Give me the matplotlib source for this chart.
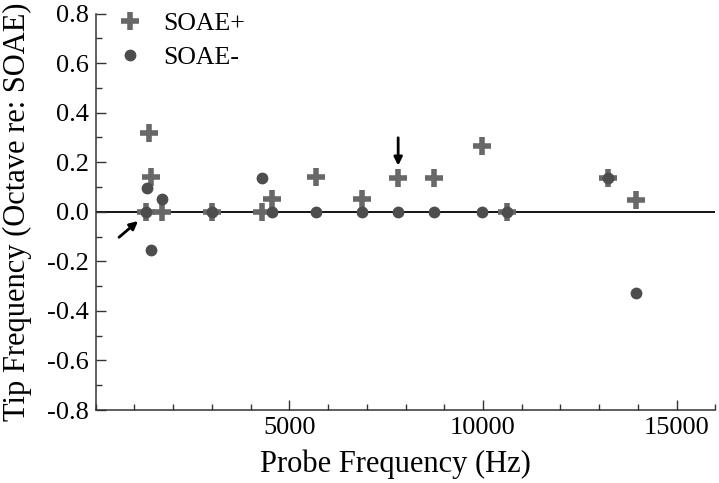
import numpy as np
import matplotlib
matplotlib.use('Agg')
import matplotlib.pyplot as plt
from matplotlib.ticker import MultipleLocator

plt.rcParams['font.family'] = ['Liberation Serif', 'DejaVu Serif']

# SOAE+ points (probe frequency Hz, tip frequency octave re SOAE)
plus_x = [1380, 1420, 1300, 1710, 3000, 4300, 4560, 5690, 6880, 7810, 8740, 9980, 10610, 13220, 13950]
plus_y = [0.316, 0.141, 0.0, 0.0, 0.0, 0.0, 0.05, 0.14, 0.05, 0.137, 0.137, 0.266, 0.0, 0.137, 0.047]

# SOAE- points
minus_x = [1330, 1710, 1300, 1430, 3000, 4300, 4560, 5690, 6880, 7810, 8740, 9980, 10610, 13220, 13950]
minus_y = [0.094, 0.051, 0.0, -0.154, 0.0, 0.135, 0.0, 0.0, 0.0, 0.0, 0.0, 0.0, 0.0, 0.137, -0.329]

fig = plt.figure(figsize=(7.19, 4.83), dpi=100)
ax = fig.add_axes([0.133, 0.151, 0.862, 0.821])

ax.axhline(0, color='black', lw=1.3, zorder=1)
ax.plot(plus_x, plus_y, linestyle='none', marker='+', ms=13, mew=4,
        color='#686868', label='SOAE+', zorder=3)
ax.plot(minus_x, minus_y, linestyle='none', marker='o', ms=8.5,
        color='#4d4d4d', mec='none', label='SOAE-', zorder=3)

# arrows
ax.annotate('', xy=(1150, -0.03), xytext=(550, -0.11),
            arrowprops=dict(arrowstyle='-|>', color='black', lw=2, mutation_scale=12))
ax.annotate('', xy=(7810, 0.175), xytext=(7810, 0.31),
            arrowprops=dict(arrowstyle='-|>', color='black', lw=2, mutation_scale=12))

ax.set_xlim(0, 16000)
ax.set_ylim(-0.8, 0.8)
ax.xaxis.set_minor_locator(MultipleLocator(1000))
ax.yaxis.set_major_locator(MultipleLocator(0.2))
ax.yaxis.set_minor_locator(MultipleLocator(0.1))
ax.set_xticks([5000, 10000, 15000])
ax.yaxis.set_major_formatter(plt.FuncFormatter(lambda v, p: '%.1f' % v))

for s in ['top', 'right']:
    ax.spines[s].set_visible(False)
for s in ['left', 'bottom']:
    ax.spines[s].set_color('#333333')
    ax.spines[s].set_linewidth(1.1)

ax.tick_params(which='major', direction='in', length=7, width=1, labelsize=19,
               color='#333333', pad=5)
ax.tick_params(which='minor', direction='in', length=4, width=1, color='#333333')

ax.set_xlabel('Probe Frequency (Hz)', fontsize=22)
ax.set_ylabel('Tip Frequency (Octave re: SOAE)', fontsize=22)
ax.xaxis.set_label_coords(0.483, -0.1)
ax.yaxis.set_label_coords(-0.103, 0.5)

ax.legend(loc='upper left', frameon=False, fontsize=18.5, handletextpad=0.5,
          borderaxespad=0.0, bbox_to_anchor=(0.005, 1.03), labelspacing=0.45,
          handlelength=1.6)

fig.savefig('out.png', dpi=100)
